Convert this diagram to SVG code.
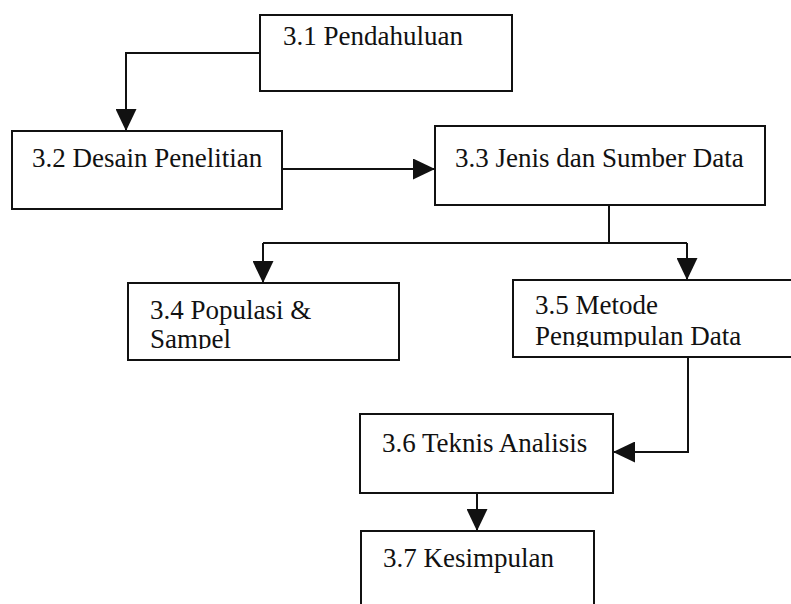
<svg xmlns="http://www.w3.org/2000/svg" width="791" height="604" viewBox="0 0 791 604">
  <style>
    .box { fill: #fff; stroke: #111; stroke-width: 2; }
    .lbl { font-family: "Liberation Serif", "Times New Roman", serif; font-size: 27px; fill: #111; }
    .wire { fill: none; stroke: #111; stroke-width: 2; }
  </style>
  <defs>
    <marker id="head" markerUnits="userSpaceOnUse" markerWidth="22" markerHeight="21" refX="22" refY="10.5" orient="auto">
      <path d="M0,0 L22,10.5 L0,21 z" fill="#111"/>
    </marker>
    <clipPath id="clip34"><rect x="128" y="283" width="271" height="66"/></clipPath>
    <clipPath id="clip35"><rect x="513" y="280" width="280" height="67"/></clipPath>
  </defs>
  <rect width="791" height="604" fill="#fff"/>

  <g id="connectors">
    <path class="wire" d="M260,53 H126 V131" marker-end="url(#head)"/>
    <path class="wire" d="M282,169 H435" marker-end="url(#head)"/>
    <path class="wire" d="M609,205 V243 M263,243 H687"/>
    <path class="wire" d="M263,243 V283" marker-end="url(#head)"/>
    <path class="wire" d="M687,243 V280" marker-end="url(#head)"/>
    <path class="wire" d="M688,357 V452 H613" marker-end="url(#head)"/>
    <path class="wire" d="M477,493 V531" marker-end="url(#head)"/>
  </g>

  <g id="n31">
    <rect class="box" x="260" y="15" width="252" height="76"/>
    <text class="lbl" x="283" y="45">3.1 Pendahuluan</text>
  </g>
  <g id="n32">
    <rect class="box" x="12" y="131" width="270" height="78"/>
    <text class="lbl" x="32" y="167">3.2 Desain Penelitian</text>
  </g>
  <g id="n33">
    <rect class="box" x="435" y="126" width="330" height="79"/>
    <text class="lbl" x="455" y="167">3.3 Jenis dan Sumber Data</text>
  </g>
  <g id="n34">
    <rect class="box" x="128" y="283" width="271" height="77"/>
    <text class="lbl" x="150" y="319" clip-path="url(#clip34)">3.4 Populasi &amp;<tspan x="150" dy="29">Sampel</tspan></text>
  </g>
  <g id="n35">
    <rect class="box" x="513" y="280" width="290" height="77"/>
    <text class="lbl" x="535" y="314" clip-path="url(#clip35)">3.5 Metode<tspan x="535" dy="31">Pengumpulan Data</tspan></text>
  </g>
  <g id="n36">
    <rect class="box" x="360" y="414" width="253" height="79"/>
    <text class="lbl" x="382" y="452">3.6 Teknis Analisis</text>
  </g>
  <g id="n37">
    <rect class="box" x="361" y="531" width="233" height="90"/>
    <text class="lbl" x="383" y="567">3.7 Kesimpulan</text>
  </g>
</svg>
